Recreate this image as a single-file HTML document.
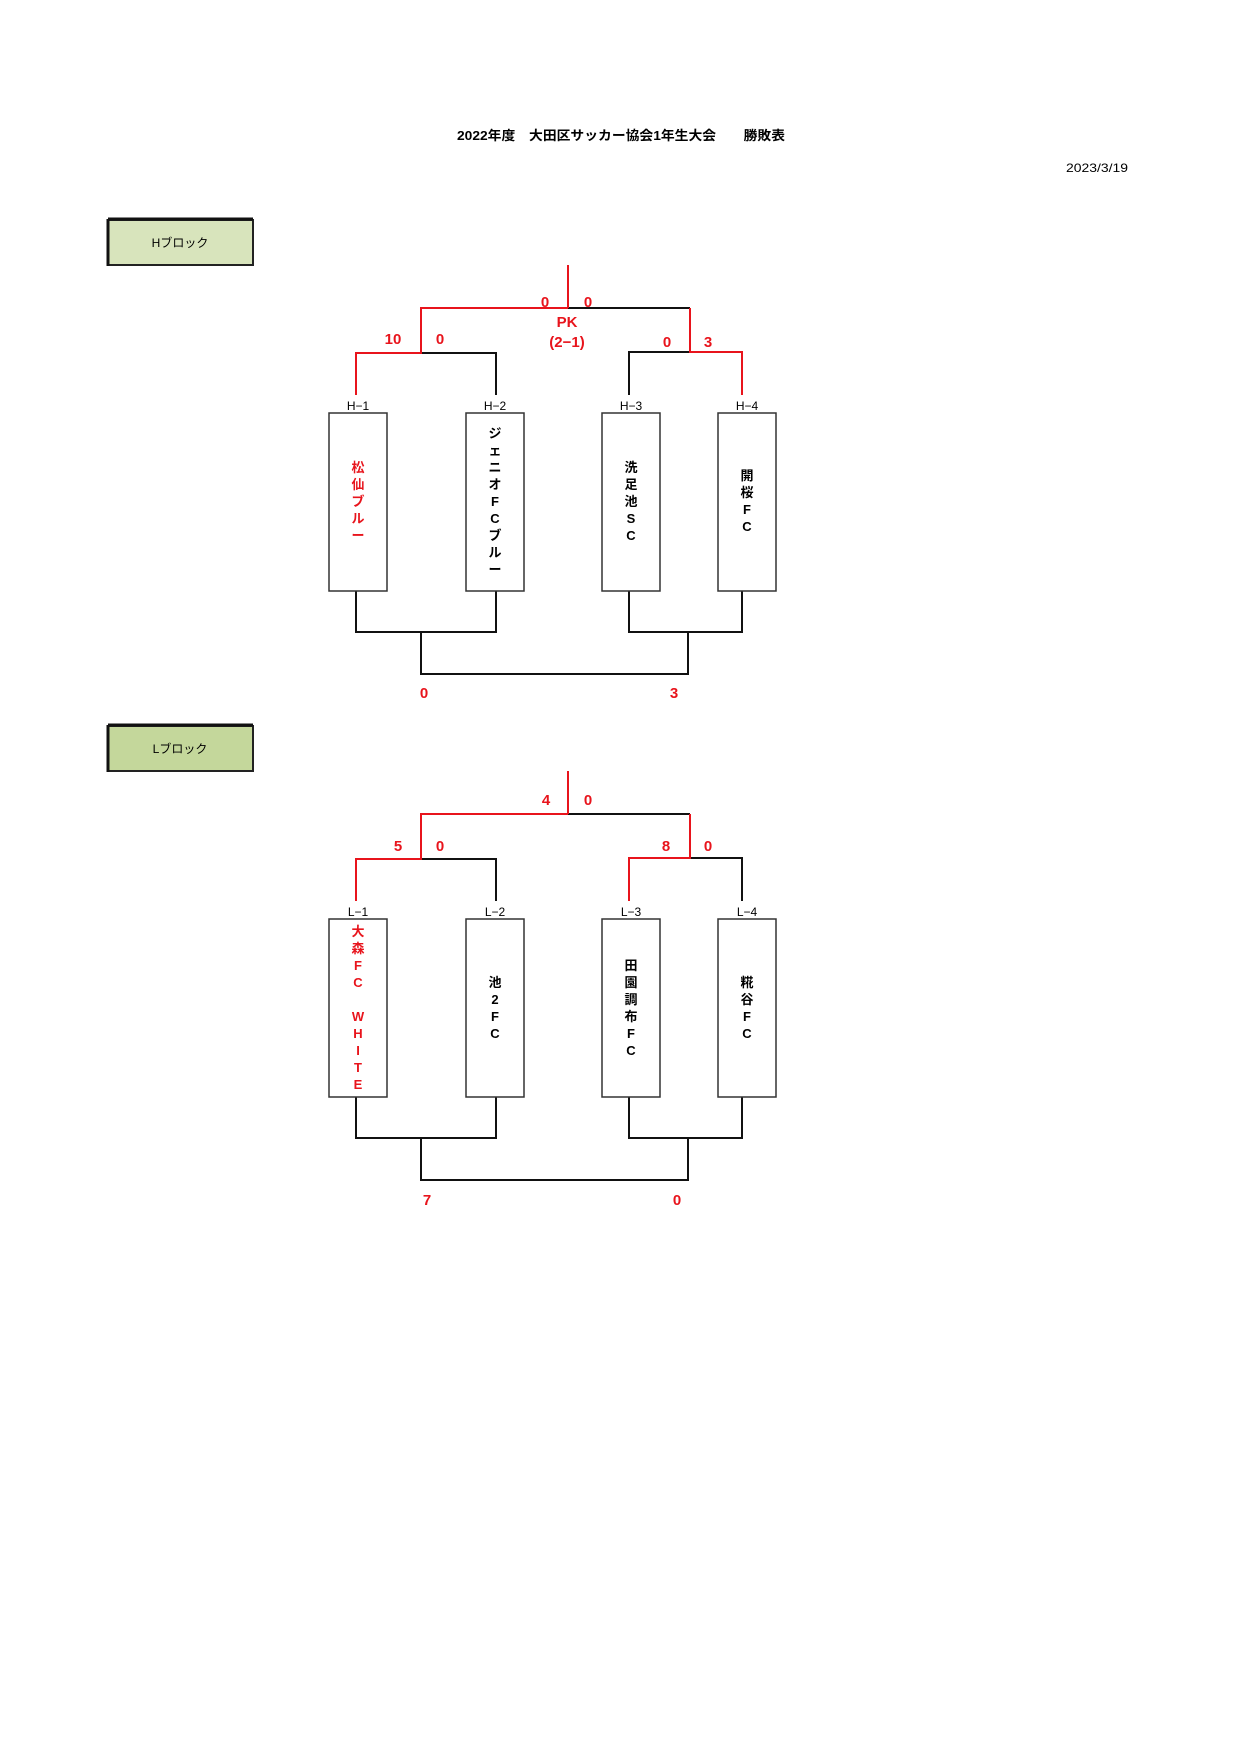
<!DOCTYPE html>
<html><head><meta charset="utf-8"><style>
html,body{margin:0;padding:0;background:#fff}
svg{display:block}
text{font-family:"Liberation Sans","Noto Sans CJK JP",sans-serif}
.s{font-weight:bold;font-size:15px;fill:#e8141c;text-anchor:middle}
.lb{font-size:12px;text-anchor:middle;fill:#000}
.n{font-size:13px;text-anchor:middle;font-weight:bold}
</style></head><body>
<svg width="1240" height="1754" viewBox="0 0 1240 1754" xmlns="http://www.w3.org/2000/svg">
<text x="621" y="140" font-size="13" font-weight="bold" text-anchor="middle" textLength="328" lengthAdjust="spacingAndGlyphs">2022年度　大田区サッカー協会1年生大会　　勝敗表</text>
<text x="1097" y="172" font-size="12" text-anchor="middle" textLength="62" lengthAdjust="spacingAndGlyphs">2023/3/19</text>

<rect x="108" y="220" width="145" height="45" fill="#d8e4bc" stroke="#222" stroke-width="2"/>
<line x1="108" y1="219" x2="253" y2="219" stroke="#111" stroke-width="3"/>
<line x1="108" y1="219" x2="108" y2="266" stroke="#111" stroke-width="3"/>
<text x="180" y="247" font-size="12" text-anchor="middle">Hブロック</text>

<rect x="108" y="726" width="145" height="45" fill="#c4d79b" stroke="#222" stroke-width="2"/>
<line x1="108" y1="725" x2="253" y2="725" stroke="#111" stroke-width="3"/>
<line x1="108" y1="725" x2="108" y2="772" stroke="#111" stroke-width="3"/>
<text x="180" y="753" font-size="12" text-anchor="middle">Lブロック</text>

<g fill="none" stroke-width="2">
<g stroke="#111">
<polyline points="568,308 690,308"/>
<polyline points="421,353 496,353 496,395"/>
<polyline points="629,395 629,352 690,352"/>
<polyline points="356,591 356,632 496,632 496,591"/>
<polyline points="629,591 629,632 742,632 742,591"/>
<polyline points="421,632 421,674 688,674 688,632"/>
</g>
<g stroke="#e8141c">
<polyline points="568,265 568,308"/>
<polyline points="568,308 421,308 421,353 356,353 356,395"/>
<polyline points="690,308 690,352 742,352 742,395"/>
</g>
<g stroke="#333" stroke-width="1.5" fill="#fff">
<rect x="329" y="413" width="58" height="178"/>
<rect x="466" y="413" width="58" height="178"/>
<rect x="602" y="413" width="58" height="178"/>
<rect x="718" y="413" width="58" height="178"/>
</g>
</g>
<text class="lb" x="358" y="410">H−1</text>
<text class="lb" x="495" y="410">H−2</text>
<text class="lb" x="631" y="410">H−3</text>
<text class="lb" x="747" y="410">H−4</text>
<text class="s" x="545" y="307">0</text>
<text class="s" x="588" y="307">0</text>
<text class="s" x="567" y="327">PK</text>
<text class="s" x="567" y="347">(2−1)</text>
<text class="s" x="393" y="344">10</text>
<text class="s" x="440" y="344">0</text>
<text class="s" x="667" y="347">0</text>
<text class="s" x="708" y="347">3</text>
<text class="s" x="424" y="698">0</text>
<text class="s" x="674" y="698">3</text>
<text class="n" x="358" y="472" fill="#e8141c">松</text><text class="n" x="358" y="489" fill="#e8141c">仙</text><text class="n" x="358" y="506" fill="#e8141c">ブ</text><text class="n" x="358" y="523" fill="#e8141c">ル</text><text class="n" x="358" y="540" fill="#e8141c">ー</text>
<text class="n" x="495" y="438">ジ</text><text class="n" x="495" y="455">ェ</text><text class="n" x="495" y="472">ニ</text><text class="n" x="495" y="489">オ</text><text class="n" x="495" y="506">F</text><text class="n" x="495" y="523">C</text><text class="n" x="495" y="540">ブ</text><text class="n" x="495" y="557">ル</text><text class="n" x="495" y="574">ー</text>
<text class="n" x="631" y="472">洗</text><text class="n" x="631" y="489">足</text><text class="n" x="631" y="506">池</text><text class="n" x="631" y="523">S</text><text class="n" x="631" y="540">C</text>
<text class="n" x="747" y="480">開</text><text class="n" x="747" y="497">桜</text><text class="n" x="747" y="514">F</text><text class="n" x="747" y="531">C</text>

<g transform="translate(0,506)" fill="none" stroke-width="2">
<g stroke="#111">
<polyline points="568,308 690,308"/>
<polyline points="421,353 496,353 496,395"/>
<polyline points="690,352 742,352 742,395"/>
<polyline points="356,591 356,632 496,632 496,591"/>
<polyline points="629,591 629,632 742,632 742,591"/>
<polyline points="421,632 421,674 688,674 688,632"/>
</g>
<g stroke="#e8141c">
<polyline points="568,265 568,308"/>
<polyline points="568,308 421,308 421,353 356,353 356,395"/>
<polyline points="690,308 690,352 629,352 629,395"/>
</g>
<g stroke="#333" stroke-width="1.5" fill="#fff">
<rect x="329" y="413" width="58" height="178"/>
<rect x="466" y="413" width="58" height="178"/>
<rect x="602" y="413" width="58" height="178"/>
<rect x="718" y="413" width="58" height="178"/>
</g>
</g>
<text class="lb" x="358" y="916">L−1</text>
<text class="lb" x="495" y="916">L−2</text>
<text class="lb" x="631" y="916">L−3</text>
<text class="lb" x="747" y="916">L−4</text>
<text class="s" x="546" y="805">4</text>
<text class="s" x="588" y="805">0</text>
<text class="s" x="398" y="851">5</text>
<text class="s" x="440" y="851">0</text>
<text class="s" x="666" y="851">8</text>
<text class="s" x="708" y="851">0</text>
<text class="s" x="427" y="1205">7</text>
<text class="s" x="677" y="1205">0</text>
<text class="n" x="358" y="936" fill="#e8141c">大</text><text class="n" x="358" y="953" fill="#e8141c">森</text><text class="n" x="358" y="970" fill="#e8141c">F</text><text class="n" x="358" y="987" fill="#e8141c">C</text><text class="n" x="358" y="1021" fill="#e8141c">W</text><text class="n" x="358" y="1038" fill="#e8141c">H</text><text class="n" x="358" y="1055" fill="#e8141c">I</text><text class="n" x="358" y="1072" fill="#e8141c">T</text><text class="n" x="358" y="1089" fill="#e8141c">E</text>
<text class="n" x="495" y="987">池</text><text class="n" x="495" y="1004">2</text><text class="n" x="495" y="1021">F</text><text class="n" x="495" y="1038">C</text>
<text class="n" x="631" y="970">田</text><text class="n" x="631" y="987">園</text><text class="n" x="631" y="1004">調</text><text class="n" x="631" y="1021">布</text><text class="n" x="631" y="1038">F</text><text class="n" x="631" y="1055">C</text>
<text class="n" x="747" y="987">糀</text><text class="n" x="747" y="1004">谷</text><text class="n" x="747" y="1021">F</text><text class="n" x="747" y="1038">C</text>
</svg>
</body></html>
